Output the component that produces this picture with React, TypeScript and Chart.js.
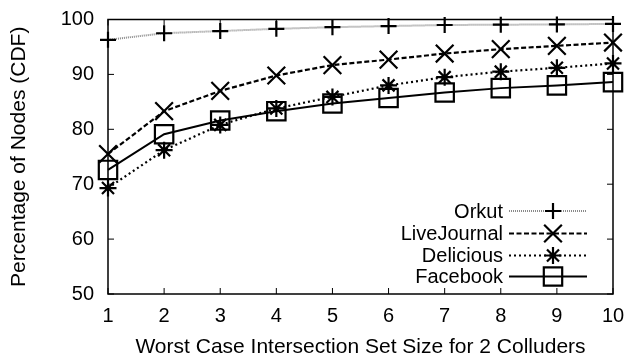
import React, { useEffect, useRef } from "react";
import { Chart, registerables } from "chart.js";

Chart.register(...registerables);

const xValues = [1, 2, 3, 4, 5, 6, 7, 8, 9, 10];
const orkut = [96.3, 97.5, 97.9, 98.3, 98.6, 98.8, 99.0, 99.05, 99.1, 99.2];
const liveJournal = [75.5, 83.3, 87.0, 89.8, 91.7, 92.7, 93.8, 94.6, 95.2, 95.8];
const delicious = [69.3, 76.2, 80.8, 83.8, 85.9, 88.0, 89.5, 90.5, 91.2, 92.0];
const facebook = [72.6, 79.1, 81.6, 83.3, 84.7, 85.7, 86.7, 87.5, 88.0, 88.6];
const yTicks = [50, 60, 70, 80, 90, 100];
const xTitle = "Worst Case Intersection Set Size for 2 Colluders";
const yTitle = "Percentage of Nodes (CDF)";

const FONT = "'Liberation Sans', Arial, sans-serif";

function marker(ctx: CanvasRenderingContext2D, style: string, r: number, x: number, y: number) {
  ctx.beginPath();
  if (style === "cross") {
    ctx.moveTo(x - r, y); ctx.lineTo(x + r, y);
    ctx.moveTo(x, y - r); ctx.lineTo(x, y + r);
  } else if (style === "crossRot") {
    const d = r * Math.SQRT1_2;
    ctx.moveTo(x - d, y - d); ctx.lineTo(x + d, y + d);
    ctx.moveTo(x - d, y + d); ctx.lineTo(x + d, y - d);
  } else if (style === "star") {
    const d = r * Math.SQRT1_2;
    ctx.moveTo(x - r, y); ctx.lineTo(x + r, y);
    ctx.moveTo(x, y - r); ctx.lineTo(x, y + r);
    ctx.moveTo(x - d, y - d); ctx.lineTo(x + d, y + d);
    ctx.moveTo(x - d, y + d); ctx.lineTo(x + d, y - d);
  } else if (style === "rect") {
    const d = r * Math.SQRT1_2;
    ctx.rect(x - d, y - d, 2 * d, 2 * d);
  }
  ctx.stroke();
}

const frame = {
  id: "frame",
  afterDraw(chart: any) {
    const { ctx, chartArea: a, scales } = chart;
    ctx.save();
    ctx.strokeStyle = "#000";
    ctx.lineWidth = 1.5;
    ctx.strokeRect(a.left, a.top, a.right - a.left, a.bottom - a.top);
    ctx.lineWidth = 1;
    const L = 6;
    ctx.beginPath();
    for (const v of yTicks) {
      const y = scales.y.getPixelForValue(v);
      ctx.moveTo(a.left, y);
      ctx.lineTo(a.left + L, y);
      ctx.moveTo(a.right, y);
      ctx.lineTo(a.right - L, y);
    }
    for (const v of xValues) {
      const x = scales.x.getPixelForValue(v);
      ctx.moveTo(x, a.bottom);
      ctx.lineTo(x, a.bottom - L);
      ctx.moveTo(x, a.top);
      ctx.lineTo(x, a.top + L);
    }
    ctx.stroke();

    // legend
    const rowY = [211, 233.5, 255.5, 276.5];
    const textRight = 503;
    const lineL = 509;
    const lineR = 587;
    const mx = 553;
    ctx.font = `20px ${FONT}`;
    ctx.textAlign = "right";
    ctx.textBaseline = "middle";
    chart.data.datasets.forEach((ds: any, i: number) => {
      const y = rowY[i];
      ctx.fillStyle = "#000";
      ctx.fillText(ds.label, textRight, y + 1);
      ctx.beginPath();
      ctx.strokeStyle = ds.borderColor;
      ctx.lineWidth = ds.borderWidth;
      ctx.setLineDash(ds.borderDash || []);
      ctx.moveTo(lineL, y);
      ctx.lineTo(lineR, y);
      ctx.stroke();
      ctx.setLineDash([]);
      ctx.lineWidth = ds.pointBorderWidth;
      ctx.strokeStyle = "#000";
      marker(ctx, ds.pointStyle, ds.pointRadius, mx, y);
    });
    ctx.restore();
  },
};

export default function App() {
  const ref = useRef<HTMLCanvasElement>(null);
  useEffect(() => {
    const mk = (label: string, data: number[], style: any, extra: any) => ({
      label,
      data: data.map((v, i) => ({ x: xValues[i], y: v })),
      pointStyle: style,
      pointBorderColor: "#000",
      pointBackgroundColor: "rgba(0,0,0,0)",
      pointBorderWidth: 2.2,
      fill: false,
      tension: 0,
      clip: false,
      ...extra,
    });
    const chart = new Chart(ref.current!, {
      type: "line",
      data: {
        datasets: [
          mk("Orkut", orkut, "cross", { borderColor: "#8a8a8a", borderWidth: 2, borderDash: [1, 1], pointRadius: 8 }),
          mk("LiveJournal", liveJournal, "crossRot", { borderColor: "#000", borderWidth: 2.2, borderDash: [5, 2.5], pointRadius: 12.5 }),
          mk("Delicious", delicious, "star", { borderColor: "#000", borderWidth: 2.2, borderDash: [2, 3], pointRadius: 8.5 }),
          mk("Facebook", facebook, "rect", { borderColor: "#000", borderWidth: 2, pointRadius: 13 }),
        ],
      },
      options: {
        animation: false,
        responsive: false,
        layout: { padding: { top: 19.5, right: 16, left: 0, bottom: 0 } },
        plugins: { legend: { display: false }, tooltip: { enabled: false } },
        scales: {
          x: {
            type: "linear",
            min: 1,
            max: 10,
            afterFit: (s: any) => { s.height = 64; s.paddingLeft = 0; s.paddingRight = 0; },
            grid: { display: false, drawTicks: false },
            border: { display: false },
            ticks: { stepSize: 1, color: "#000", font: { family: FONT, size: 20 }, padding: 10, maxRotation: 0 },
            title: { display: true, text: xTitle, color: "#000", font: { family: FONT, size: 21, lineHeight: 1 }, padding: { top: 0, bottom: 0 } },
          },
          y: {
            min: 50,
            max: 100,
            afterFit: (s: any) => { s.width = 108; s.paddingTop = 0; s.paddingBottom = 0; },
            grid: { display: false, drawTicks: false },
            border: { display: false },
            ticks: { stepSize: 10, color: "#000", font: { family: FONT, size: 20 }, padding: 14 },
            title: { display: true, text: yTitle, color: "#000", font: { family: FONT, size: 21, lineHeight: 1.2 }, padding: { top: 7, bottom: 0 } },
          },
        },
      },
      plugins: [frame],
    });
    return () => chart.destroy();
  }, []);
  return (
    <div style={{ position: "fixed", left: 0, top: 0, width: 629, height: 358, background: "#fff" }}>
      <canvas ref={ref} width={629} height={358} />
    </div>
  );
}
